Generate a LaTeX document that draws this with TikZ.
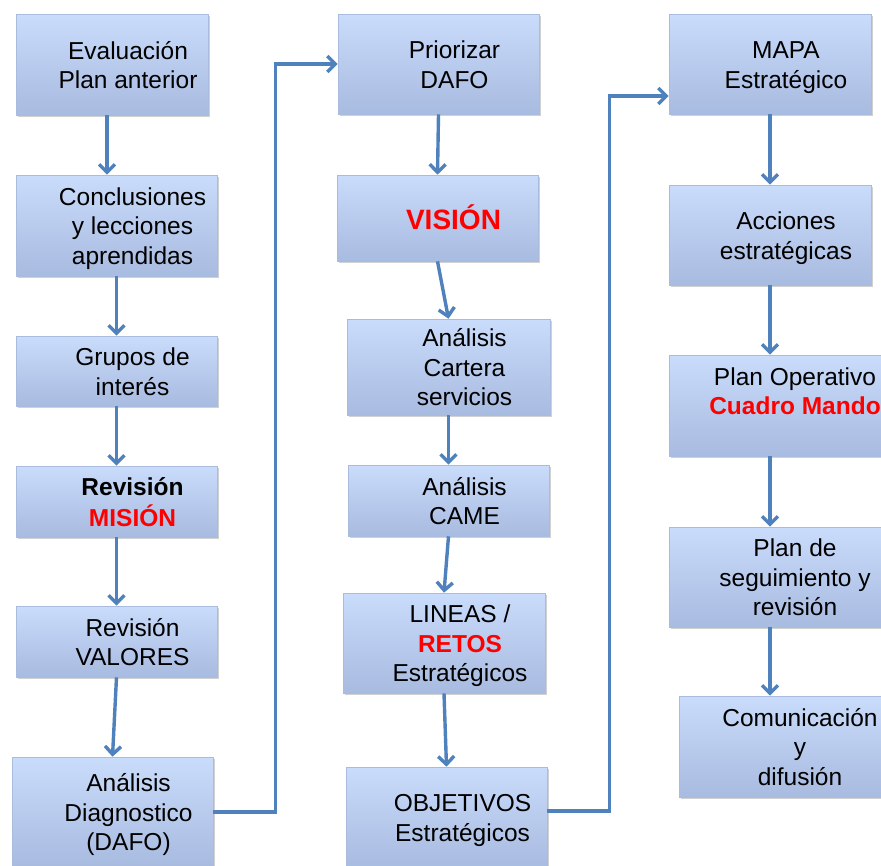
\documentclass[tikz,border=0pt]{standalone}
\usepackage{fontspec}
\setmainfont{Liberation Sans}
\definecolor{cajaarriba}{HTML}{C9DCFB}
\definecolor{cajaabajo}{HTML}{A8BBE0}
\definecolor{cajaborde}{HTML}{A9BCDD}
\definecolor{flechaazul}{HTML}{4F81BD}
\definecolor{rojo}{HTML}{FF0000}
\usetikzlibrary{arrows.meta, shadows, calc}
\newcommand{\texto}[1]{\hspace*{32pt}\raisebox{0pt}[\dimexpr\height+7pt\relax]{\begin{tabular}{@{}c@{}}#1\end{tabular}}}
\newcommand{\baja}[2]
{
	\draw[conector] (#1.south) -- (#2.north)
}

\begin{document}
\begin{tikzpicture}[x=1pt, y=-1pt,
caja/.style={shape=rectangle, draw=cajaborde, line width=0.6pt,
	top color=cajaarriba, bottom color=cajaabajo, inner sep=0pt,
	minimum width=201pt, font=\fontsize{24.5}{29.5}\selectfont,
	drop shadow={shadow xshift=1.5pt, shadow yshift=-2pt, opacity=0.3, fill=black!60}},
conector/.style={draw=flechaazul, line width=3.4pt,
	-{Straight Barb[length=8pt, width=16pt]}}]

\useasboundingbox (0,0) rectangle (881,865);

% primera columna
\node[caja, minimum width=192pt, minimum height=101pt] at (112, 64.5) (E1){\texto{Evaluación\\Plan anterior}};
\node[caja, minimum height=101pt] at (116.5, 225.5) (E2){\texto{Conclusiones\\y lecciones\\aprendidas}};
\node[caja, minimum height=70pt] at (116.5, 371) (E3){\texto{Grupos de\\interés}};
\node[caja, minimum height=71pt] at (116.5, 501.5) (E4){\texto{\bfseries Revisión\\\bfseries\color{rojo}MISIÓN}};
\node[caja, minimum height=71pt] at (116.5, 641.5) (E5){\texto{Revisión\\VALORES}};
\node[caja, minimum height=110pt] at (112.5, 812) (E6){\texto{Análisis\\Diagnostico\\(DAFO)}};

% segunda columna
\node[caja, minimum height=100pt] at (438.5, 64) (P1){\texto{Priorizar\\DAFO}};
\node[caja, minimum height=86pt] at (437.5, 218) (P2){\texto{\fontsize{28}{34}\selectfont\bfseries\color{rojo}VISIÓN}};
\node[caja, minimum width=203pt, minimum height=96pt] at (448.5, 367) (P3){\texto{Análisis\\Cartera\\servicios}};
\node[caja, minimum height=71pt] at (448.5, 500.5) (P4){\texto{Análisis\\CAME}};
\node[caja, minimum width=202pt, minimum height=100pt] at (444, 643) (P5){\texto{LINEAS /\\\bfseries\color{rojo}RETOS\\Estratégicos}};
\node[caja, minimum height=100pt] at (446.5, 817) (P6){\texto{OBJETIVOS\\Estratégicos}};

% tercera columna
\node[caja, minimum width=202pt, minimum height=100pt] at (770, 64) (M1){\texto{MAPA\\Estratégico}};
\node[caja, minimum width=202pt, minimum height=100pt] at (770, 235) (M2){\texto{Acciones\\estratégicas}};
\node[caja, minimum width=220pt, minimum height=101pt] at (779, 405.5) (M3){\texto{Plan Operativo\\\bfseries\color{rojo}Cuadro Mando\\{}}};
\node[caja, minimum width=220pt, minimum height=100pt] at (779, 577) (M4){\texto{Plan de\\seguimiento y\\revisión}};
\node[caja, minimum width=210pt, minimum height=101pt] at (784, 746.5) (M5){\texto{Comunicación\\y\\difusión}};

\draw[conector] ([xshift=-5pt]E1.south) -- ([xshift=-9.5pt]E2.north);
\baja{E2}{E3};
\baja{E3}{E4};
\baja{E4}{E5};
\baja{E5}{E6};
\draw[conector] (E6.east) -- ++(62,0) |- (P1.west);
\baja{P1}{P2};
\baja{P2}{P3};
\baja{P3}{P4};
\baja{P4}{P5};
\baja{P5}{P6};
\draw[conector] ([yshift=6pt]P6.east) -- ++(62,0) |- ([yshift=-32pt]M1.west);
\baja{M1}{M2};
\draw[conector] (M2.south) -- (M2.south |- M3.north);
\draw[conector] (M2.south |- M3.south) -- (M2.south |- M4.north);
\draw[conector] (M2.south |- M4.south) -- (M2.south |- M5.north);
\end{tikzpicture}
\end{document}
